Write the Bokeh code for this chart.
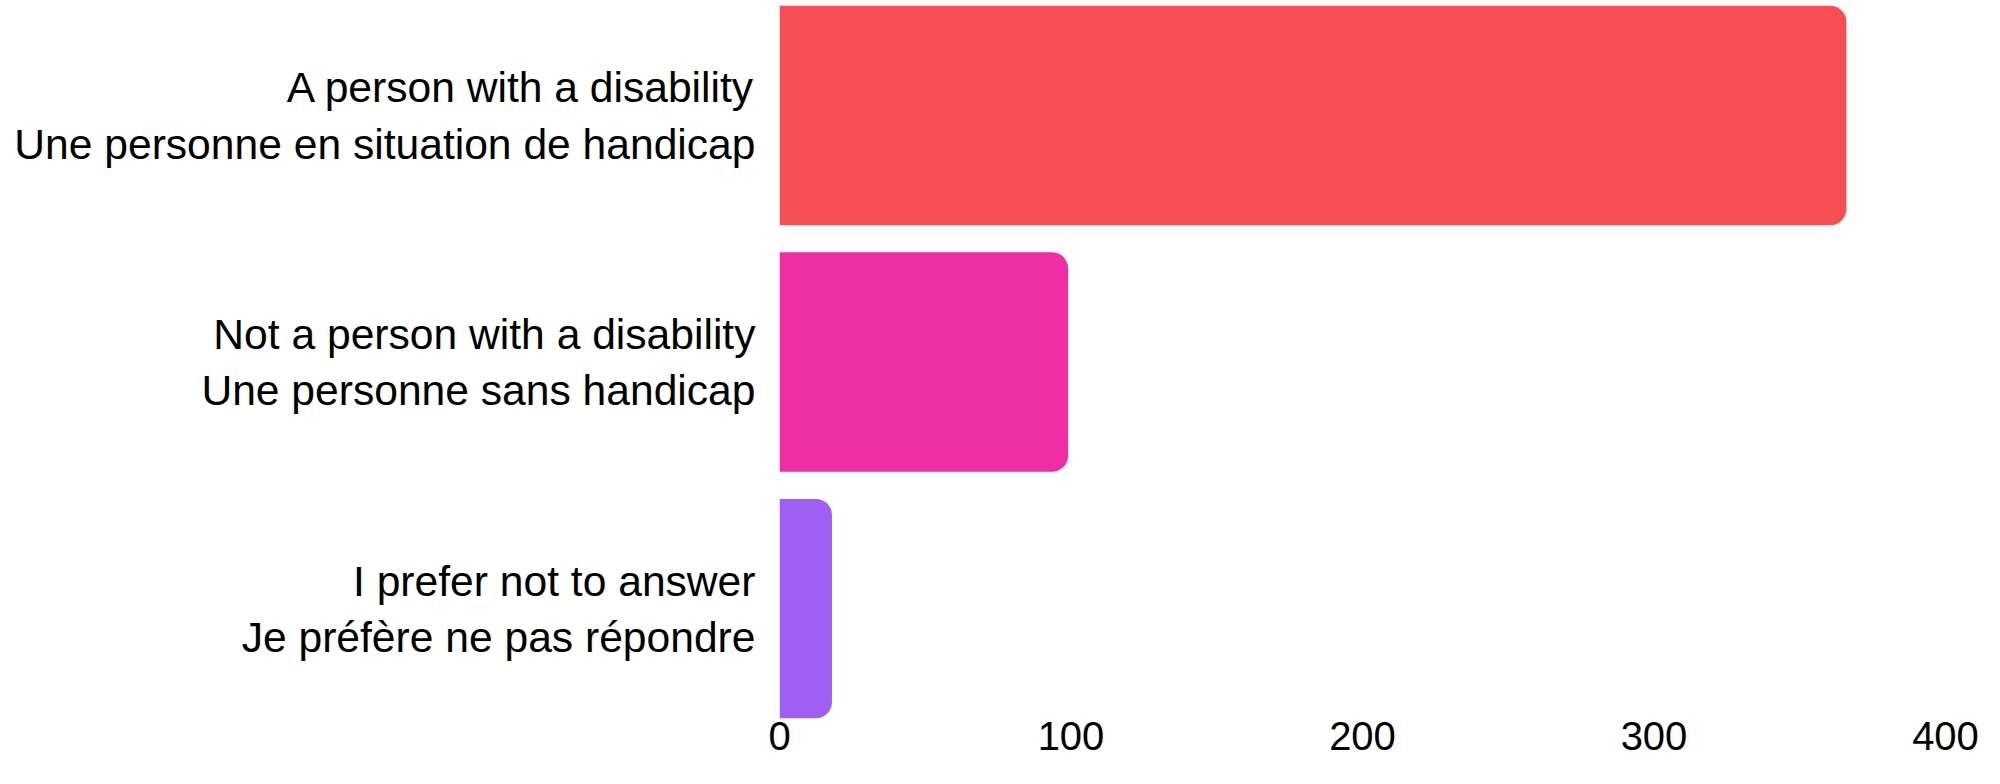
from bokeh.plotting import figure
from bokeh.models import Range1d, FixedTicker, ColumnDataSource
from bokeh.embed import file_html
from bokeh.resources import INLINE

categories = [
    "A person with a disability\nUne personne en situation de handicap",
    "Not a person with a disability\nUne personne sans handicap",
    "I prefer not to answer\nJe préfère ne pas répondre",
]
counts = [366, 99, 18]
colors = ["#F74D53", "#EF2EA6", "#9F5EF4"]
x_ticks = [0, 100, 200, 300, 400]

n = len(categories)
ypos = [n - 1 - i for i in range(n)]

src = ColumnDataSource(dict(y=ypos, right=counts, color=colors))

p = figure(
    width=1984, height=768,
    x_range=Range1d(0, 400),
    y_range=Range1d(-0.458, 2.4665),
    output_backend="svg", toolbar_location=None,
    min_border_left=779, min_border_right=39, min_border_top=0, min_border_bottom=47,
)
p.hbar(y="y", left=0, right="right", height=0.89, color="color", source=src,
       line_color=None, border_radius=(0, 16, 16, 0))

p.outline_line_color = None
p.xgrid.visible = False
p.ygrid.visible = False

p.yaxis.ticker = FixedTicker(ticks=ypos)
p.yaxis.major_label_overrides = {y: c for y, c in zip(ypos, categories)}
p.yaxis.axis_line_color = None
p.yaxis.major_tick_line_color = None
p.yaxis.minor_tick_line_color = None
p.yaxis.major_tick_out = 0
p.yaxis.major_label_standoff = 24
p.yaxis.major_label_text_font = "Liberation Sans"
p.yaxis.major_label_text_font_size = "42.6px"
p.yaxis.major_label_text_color = "#000000"
p.yaxis.major_label_text_line_height = 1.17

p.xaxis.ticker = FixedTicker(ticks=x_ticks)
p.xaxis.axis_line_color = None
p.xaxis.major_tick_line_color = None
p.xaxis.minor_tick_line_color = None
p.xaxis.major_tick_out = 0
p.xaxis.major_label_standoff = 0
p.xaxis.major_label_text_font = "Liberation Sans"
p.xaxis.major_label_text_font_size = "40px"
p.xaxis.major_label_text_color = "#000000"

open("out.html", "w").write(file_html(p, INLINE))
